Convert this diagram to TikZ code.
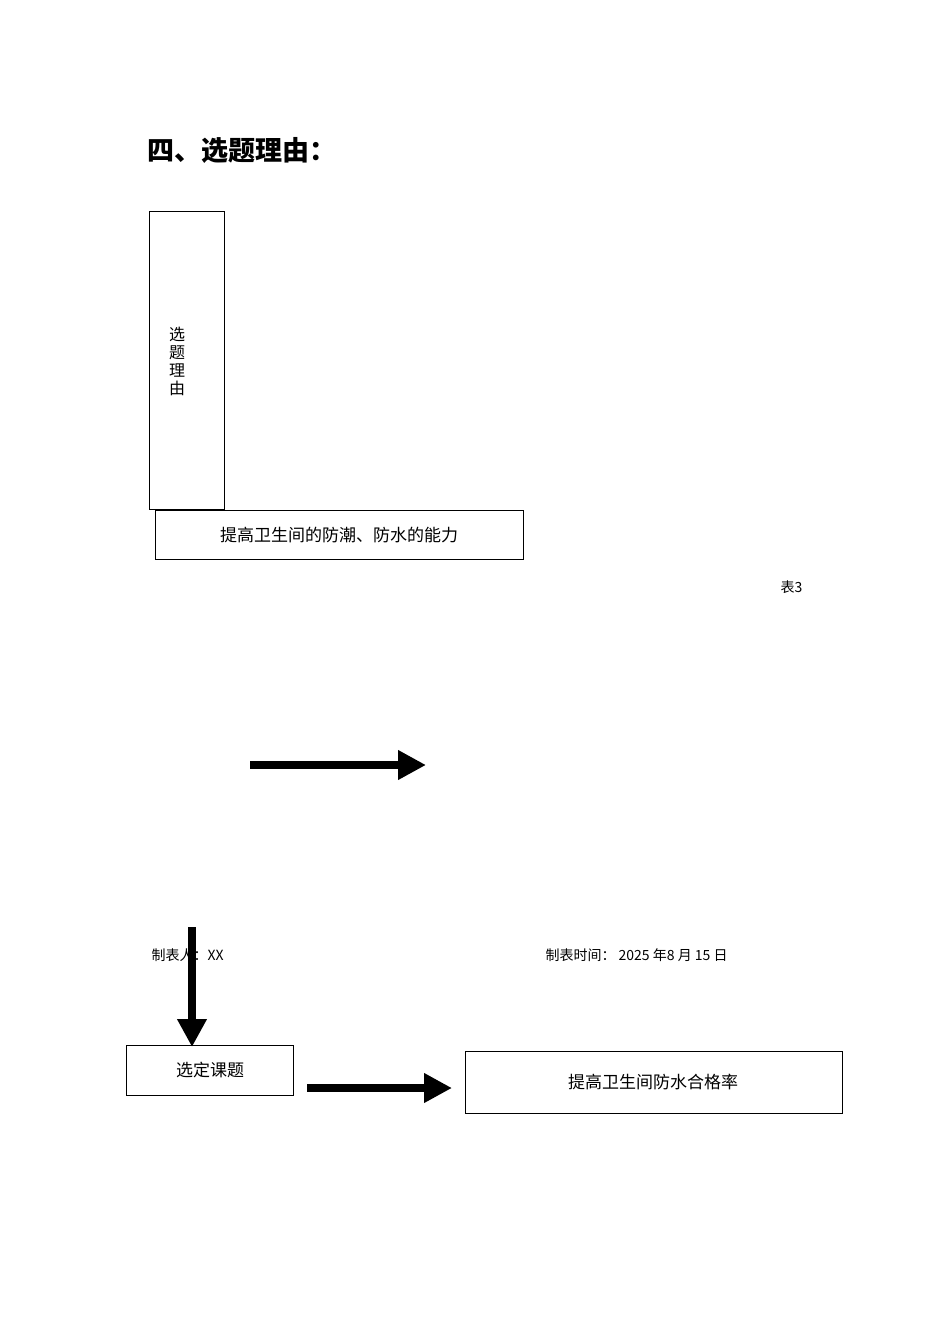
\documentclass[tikz,border=0pt]{standalone}
\usepackage{fontspec}
\newfontfamily\cjk{Noto Sans CJK SC}
\usetikzlibrary{arrows.meta}
\begin{document}
\begin{tikzpicture}[x=1pt,y=-1pt,
  box/.style={draw,line width=0.8pt,inner sep=0pt},
  txt/.style={font=\cjk\fontsize{17}{20}\selectfont},
  small/.style={font=\cjk\fontsize{14}{16}\selectfont,anchor=west},
  bigarrow/.style={line width=8pt,-{Triangle[length=28pt,width=28pt]}}]
\useasboundingbox (0,0) rectangle (950,1344);
\node[anchor=west,font=\cjk\bfseries\fontsize{27}{30}\selectfont] (title) at (144,150) {四、选题理由：};
\draw[box] (149,211) rectangle (224,509);
\node[txt,align=center,font=\cjk\fontsize{16}{18}\selectfont] (reason) at (177,361) {选\\题\\理\\由};
\draw[box] (155,510) rectangle (523,559);
\node[txt] (r1) at (339,535) {提高卫生间的防潮、防水的能力};
\node[small] (tab) at (777,587) {表3};
\coordinate (a1s) at (250,765);
\coordinate (a1e) at (426,765);
\draw[bigarrow] (a1s) -- (a1e);
\node[small] (maker) at (148,955) {制表人：XX};
\node[small] (time) at (542,955) {制表时间：\ 2025 年8 月 15 日};
\coordinate (a2s) at (192,927);
\coordinate (a2e) at (192,1047);
\draw[bigarrow] (a2s) -- (a2e);
\draw[box] (126,1045) rectangle (293,1095);
\node[txt] (sel) at (210,1070) {选定课题};
\coordinate (a3s) at (307,1088);
\coordinate (a3e) at (452,1088);
\draw[bigarrow] (a3s) -- (a3e);
\draw[box] (465,1051) rectangle (842,1113);
\node[txt] (goal) at (653,1082) {提高卫生间防水合格率};
\end{tikzpicture}
\end{document}
